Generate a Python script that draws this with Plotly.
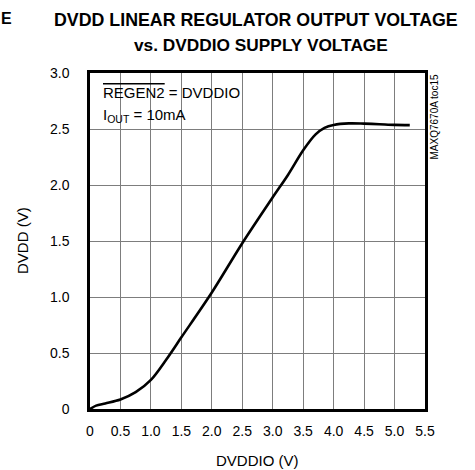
import plotly.graph_objects as go

# Data
dvddio = [0, 0.1, 0.25, 0.5, 0.75, 1.0, 1.25, 1.5, 2.0, 2.5, 3.0, 3.25, 3.5, 3.7, 3.85, 4.0, 4.25, 4.5, 4.75, 5.0, 5.25]
dvdd = [0, 0.03, 0.05, 0.085, 0.15, 0.26, 0.44, 0.64, 1.04, 1.48, 1.89, 2.09, 2.31, 2.45, 2.51, 2.536, 2.55, 2.548, 2.543, 2.537, 2.535]

x_ticks = [0, 0.5, 1.0, 1.5, 2.0, 2.5, 3.0, 3.5, 4.0, 4.5, 5.0, 5.5]
x_tick_text = ["0", "0.5", "1.0", "1.5", "2.0", "2.5", "3.0", "3.5", "4.0", "4.5", "5.0", "5.5"]
y_ticks = [0, 0.5, 1.0, 1.5, 2.0, 2.5, 3.0]
y_tick_text = ["0", "0.5", "1.0", "1.5", "2.0", "2.5", "3.0"]

FONT = "Liberation Sans, Arial, sans-serif"

fig = go.Figure()
fig.add_trace(go.Scatter(
    x=dvddio, y=dvdd, mode="lines",
    line=dict(color="black", width=2.6, shape="spline", smoothing=0.9),
    showlegend=False, hoverinfo="skip",
))

axis_common = dict(
    showgrid=True, gridcolor="#7d7d7d", gridwidth=1.4,
    showline=True, linecolor="black", linewidth=2.5, mirror=True,
    ticks="", zeroline=False, automargin=False,
    tickfont=dict(family=FONT, size=14, color="black"),
)

fig.update_xaxes(range=[0, 5.5], tickvals=x_ticks, ticktext=x_tick_text,
                 ticklabelstandoff=7, **axis_common)
fig.update_yaxes(range=[0, 3.0], tickvals=y_ticks, ticktext=y_tick_text,
                 ticklabelstandoff=15, **axis_common)

# white panel hiding the grid behind the condition text (drawn between grid and traces)
PLOT_W, PLOT_H = 335, 336
fig.add_shape(type="rect", xref="paper", yref="paper", layer="between",
              x0=2 / PLOT_W, x1=168 / PLOT_W, y0=1 - 54 / PLOT_H, y1=1 - 5 / PLOT_H,
              fillcolor="white", line=dict(width=0))

annotations = [
    # title lines
    dict(xref="paper", yref="paper", x=(256 - 90) / 335, y=1, xanchor="center", yanchor="middle",
         yshift=73 - 20, showarrow=False, text="<b>DVDD LINEAR REGULATOR OUTPUT VOLTAGE</b>",
         font=dict(family=FONT, size=17.8, color="black")),
    dict(xref="paper", yref="paper", x=(261 - 90) / 335, y=1, xanchor="center", yanchor="middle",
         yshift=73 - 45, showarrow=False, text="<b>vs. DVDDIO SUPPLY VOLTAGE</b>",
         font=dict(family=FONT, size=17.3, color="black")),
    # axis titles
    dict(xref="paper", yref="paper", x=0.5, y=0, xanchor="center", yanchor="middle",
         yshift=-(460 - 409), showarrow=False, text="DVDDIO (V)",
         font=dict(family=FONT, size=15, color="black")),
    dict(xref="paper", yref="paper", x=0, y=0.5, xanchor="center", yanchor="middle",
         xshift=-(90 - 22), showarrow=False, text="DVDD (V)", textangle=-90,
         font=dict(family=FONT, size=15, color="black")),
    # condition text
    dict(xref="paper", yref="paper", x=0, y=1, xanchor="left", yanchor="middle",
         xshift=11, yshift=-19, showarrow=False, align="left",
         text="<span style='text-decoration:overline'>REGEN2</span> = DVDDIO",
         font=dict(family=FONT, size=15, color="black")),
    dict(xref="paper", yref="paper", x=0, y=1, xanchor="left", yanchor="middle",
         xshift=11, yshift=-42, showarrow=False, align="left",
         text="I<sub>OUT</sub> = 10mA",
         font=dict(family=FONT, size=15, color="black")),
    # side code
    dict(xref="paper", yref="paper", x=1, y=1, xanchor="center", yanchor="top",
         xshift=9, yshift=0, showarrow=False, textangle=-90,
         text="MAXQ7670A toc15",
         font=dict(family=FONT, size=10, color="black")),
    # cut-off letter at the left edge
    dict(xref="paper", yref="paper", x=0, y=1, xanchor="left", yanchor="middle",
         xshift=-91, yshift=73 - 18, showarrow=False, text="<b>E</b>",
         font=dict(family=FONT, size=16, color="black")),
]

fig.update_layout(
    width=475, height=470,
    margin=dict(l=90, r=50, t=73, b=61),
    paper_bgcolor="white", plot_bgcolor="white",
    annotations=annotations,
)

fig.write_html("out.html", config={"displayModeBar": False},
               post_script="document.body.style.margin='0';document.body.style.overflow='hidden';")
